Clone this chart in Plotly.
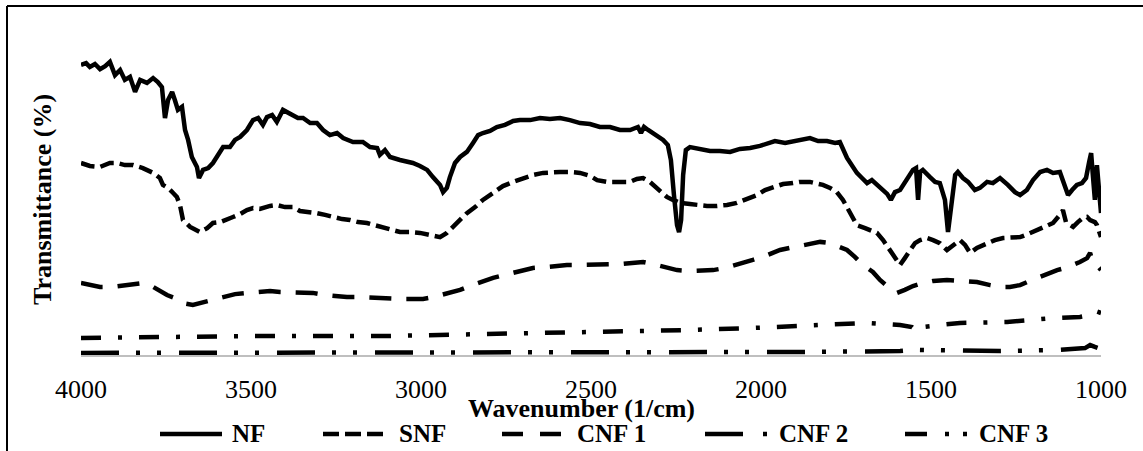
import plotly.graph_objects as go

# ---------------- data ----------------
nf_w = [4000, 3985, 3974, 3959, 3944, 3929, 3915, 3900, 3885, 3871, 3856, 3841, 3826, 3806, 3788, 3774,
        3762, 3759, 3753, 3744, 3732, 3724, 3715, 3703, 3694, 3685, 3674, 3659, 3653, 3641, 3626, 3612,
        3591, 3582, 3562, 3547, 3532, 3512, 3494, 3479, 3465, 3453, 3438, 3424, 3406, 3391, 3376, 3362,
        3347, 3326, 3306, 3288, 3268, 3247, 3229, 3200, 3171, 3150, 3129, 3121, 3106, 3091, 3062, 3024,
        3003, 2982, 2965, 2944, 2935, 2924, 2915, 2900, 2885, 2865, 2847, 2832, 2818, 2797, 2777, 2753,
        2729, 2709, 2679, 2650, 2621, 2591, 2562, 2532, 2503, 2474, 2444, 2415, 2385, 2362, 2353, 2344,
        2332, 2312, 2288, 2274, 2265, 2256, 2247, 2241, 2235, 2229, 2221, 2209, 2179, 2150, 2121, 2091,
        2062, 2032, 2003, 1974, 1959, 1929, 1906, 1877, 1856, 1832, 1806, 1782, 1768, 1747, 1732, 1718,
        1703, 1688, 1674, 1659, 1644, 1629, 1618, 1606, 1591, 1577, 1562, 1553, 1544, 1538, 1532, 1524,
        1503, 1488, 1474, 1459, 1450, 1441, 1429, 1421, 1406, 1391, 1371, 1356, 1335, 1318, 1297, 1274,
        1253, 1238, 1218, 1200, 1179, 1159, 1141, 1121, 1112, 1097, 1085, 1071, 1056, 1044, 1035, 1029,
        1024, 1018, 1012, 1006, 1000]
nf_t = [96.7, 97.3, 96.0, 97.0, 95.3, 96.3, 97.7, 93.3, 95.0, 91.7, 92.7, 87.7, 91.7, 90.7, 92.3, 91.0,
        89.3, 86.0, 79.0, 85.0, 87.7, 85.0, 81.7, 82.7, 75.0, 71.7, 66.0, 62.7, 59.0, 61.7, 62.3, 64.0,
        67.3, 69.3, 69.3, 71.7, 72.7, 75.0, 78.3, 79.0, 76.7, 79.3, 80.0, 77.7, 81.7, 80.7, 80.0, 79.0,
        79.0, 77.3, 77.3, 75.0, 73.3, 74.0, 72.3, 71.0, 71.0, 69.3, 69.0, 66.7, 68.3, 66.0, 65.0, 64.0,
        63.0, 61.7, 59.3, 56.7, 54.3, 55.7, 59.3, 64.0, 66.0, 67.7, 70.7, 73.3, 74.0, 74.7, 76.0, 76.7,
        78.0, 78.3, 78.3, 79.0, 78.7, 79.0, 78.3, 77.3, 77.0, 76.0, 76.0, 75.0, 75.0, 76.0, 74.0, 76.0,
        75.0, 73.3, 71.7, 70.0, 65.0, 53.3, 43.3, 41.0, 45.0, 60.0, 68.3, 69.3, 68.7, 68.0, 68.0, 67.7,
        68.7, 69.0, 69.7, 71.0, 71.3, 70.7, 71.3, 71.7, 72.3, 71.3, 71.3, 70.7, 71.0, 65.7, 63.0, 60.7,
        59.0, 57.3, 58.3, 56.7, 55.0, 53.7, 51.7, 54.3, 55.0, 57.3, 60.3, 61.7, 62.3, 51.7, 61.0, 61.7,
        59.3, 57.7, 57.3, 51.7, 41.0, 48.3, 60.0, 61.0, 59.0, 57.7, 55.0, 55.7, 57.7, 57.3, 59.0, 56.7,
        54.3, 53.3, 55.0, 58.3, 61.0, 61.7, 60.7, 61.0, 58.3, 53.3, 55.0, 56.7, 57.3, 59.0, 64.3, 67.3,
        60.0, 51.7, 63.3, 55.0, 47.3]

snf_w = [4000, 3974, 3944, 3915, 3894, 3871, 3847, 3818, 3788, 3768, 3759, 3744, 3729, 3718, 3709, 3700,
         3679, 3650, 3629, 3612, 3591, 3571, 3553, 3532, 3512, 3494, 3474, 3444, 3424, 3400, 3376, 3356,
         3326, 3306, 3282, 3259, 3232, 3209, 3185, 3159, 3135, 3112, 3091, 3062, 3032, 3003, 2974, 2944,
         2924, 2906, 2885, 2865, 2841, 2818, 2788, 2759, 2729, 2700, 2671, 2641, 2615, 2591, 2562, 2532,
         2503, 2482, 2453, 2424, 2400, 2385, 2365, 2347, 2327, 2306, 2291, 2277, 2259, 2238, 2209, 2188,
         2159, 2129, 2100, 2071, 2041, 2012, 1988, 1965, 1935, 1906, 1885, 1856, 1835, 1818, 1797, 1777,
         1759, 1747, 1732, 1718, 1694, 1674, 1659, 1641, 1621, 1606, 1591, 1577, 1562, 1547, 1532, 1512,
         1494, 1474, 1453, 1435, 1415, 1400, 1385, 1365, 1335, 1312, 1288, 1262, 1238, 1215, 1188, 1165,
         1141, 1121, 1112, 1103, 1091, 1082, 1068, 1053, 1041, 1032, 1018, 1012, 1000]
snf_t = [64.0, 63.0, 62.7, 64.0, 64.0, 63.3, 63.3, 62.3, 60.7, 59.0, 56.7, 55.7, 54.0, 52.7, 50.0, 45.0,
         42.7, 41.0, 42.3, 44.0, 44.3, 45.0, 46.0, 47.0, 48.3, 49.0, 48.7, 49.7, 50.0, 49.3, 49.3, 48.0,
         47.7, 47.3, 46.7, 46.0, 45.3, 45.0, 44.3, 44.0, 43.3, 42.7, 42.0, 41.0, 41.0, 40.7, 40.0, 39.3,
         40.7, 42.7, 45.0, 47.3, 49.3, 51.7, 54.0, 56.3, 57.7, 59.0, 60.0, 60.7, 61.0, 61.0, 61.0, 60.7,
         59.7, 58.3, 57.7, 57.7, 57.7, 57.7, 58.7, 59.0, 57.7, 55.7, 54.0, 52.7, 51.7, 50.7, 50.3, 50.0,
         49.7, 49.7, 50.0, 50.7, 52.0, 53.3, 55.0, 56.0, 57.0, 57.3, 57.7, 57.7, 57.3, 56.7, 55.7, 54.3,
         51.7, 49.3, 45.7, 43.3, 42.3, 41.3, 40.7, 38.3, 35.0, 32.3, 30.0, 32.3, 35.0, 37.3, 38.3, 39.0,
         38.3, 37.3, 35.0, 36.7, 38.3, 36.7, 34.0, 35.7, 37.3, 38.3, 39.0, 39.0, 39.3, 40.3, 41.7, 42.7,
         44.0, 46.7, 48.3, 44.3, 43.3, 42.7, 44.3, 45.7, 46.0, 45.0, 44.3, 43.3, 39.3]

cnf1_w = [4000, 3974, 3944, 3906, 3871, 3841, 3818, 3797, 3774, 3747, 3724, 3700, 3671, 3650, 3621, 3600,
          3576, 3547, 3512, 3474, 3444, 3415, 3385, 3356, 3318, 3282, 3253, 3218, 3179, 3141, 3100, 3062,
          3024, 2994, 2965, 2929, 2906, 2885, 2856, 2827, 2788, 2753, 2709, 2671, 2635, 2600, 2571, 2532,
          2488, 2453, 2415, 2379, 2347, 2318, 2282, 2247, 2209, 2171, 2141, 2106, 2071, 2047, 2024, 1988,
          1965, 1944, 1915, 1885, 1856, 1826, 1797, 1768, 1747, 1724, 1700, 1671, 1650, 1626, 1600, 1577,
          1553, 1524, 1494, 1453, 1415, 1385, 1365, 1326, 1297, 1268, 1238, 1209, 1188, 1165, 1129, 1106,
          1082, 1062, 1041, 1032, 1024, 1012, 1000]
cnf1_t = [24.0, 23.3, 22.7, 22.7, 23.3, 23.7, 24.0, 23.3, 21.7, 20.0, 19.0, 17.3, 16.7, 17.3, 18.3, 19.0,
          19.7, 20.3, 20.7, 21.0, 21.3, 21.0, 21.0, 21.0, 20.7, 20.0, 19.7, 19.3, 19.3, 19.0, 19.0, 18.7,
          18.7, 18.7, 19.3, 20.3, 21.0, 21.7, 23.0, 24.3, 25.7, 26.7, 28.0, 29.0, 29.3, 29.7, 30.0, 30.0,
          30.0, 30.0, 30.3, 30.7, 31.0, 30.3, 29.3, 28.3, 28.0, 28.0, 28.3, 29.0, 30.0, 31.0, 31.7, 33.0,
          34.0, 35.0, 35.7, 36.3, 37.0, 37.7, 37.3, 36.0, 35.0, 32.7, 30.0, 27.7, 25.0, 22.7, 20.7, 21.7,
          23.0, 24.0, 24.7, 25.0, 24.7, 24.3, 24.3, 23.3, 22.7, 22.7, 23.3, 24.7, 25.7, 26.7, 28.3, 29.0,
          30.0, 31.0, 32.3, 34.0, 31.0, 30.0, 28.3]

cnf2_w = [4000, 3797, 3503, 3121, 2827, 2553, 2218, 2024, 1847, 1688, 1591, 1556, 1541, 1527, 1474, 1415,
          1276, 1209, 1141, 1062, 1032, 1018, 1000]
cnf2_t = [5.7, 6.0, 6.3, 6.3, 7.0, 7.3, 8.3, 9.0, 10.0, 10.7, 10.0, 9.3, 7.7, 9.3, 10.0, 10.7,
          11.0, 11.7, 12.3, 12.7, 13.3, 14.7, 14.0]

cnf3_w = [4000, 3650, 3062, 2474, 1885, 1591, 1547, 1297, 1121, 1047, 1032, 1018, 1000]
cnf3_t = [0.7, 0.7, 0.7, 0.7, 1.0, 1.3, 1.7, 1.3, 1.7, 2.3, 3.3, 2.7, 2.0]

x_ticks = [4000, 3500, 3000, 2500, 2000, 1500, 1000]
series_names = ["NF", "SNF", "CNF 1", "CNF 2", "CNF 3"]
x_title = "Wavenumber (1/cm)"
y_title = "Transmittance (%)"

# ---------------- styles ----------------
FONT = "Liberation Serif"
dashes = ["solid", "14px,6px", "22px,15px", "20px,17px,4px,17px", "38px,17px,4px,17px,4px,18px"]
legend_dashes = ["solid", "16px,6px", "21px,17px", "38px,20px,4px,20px", "22px,18px,4px,14px,4px,20px"]
LW = 4.5

W, H = 1143, 451
ML, MR, MT, MB = 81, 42, 25, 96
PW = W - ML - MR
PH = H - MT - MB


def px(xp):
    return (xp - ML) / PW


def py(yp):
    return (H - MB - yp) / PH


fig = go.Figure()
data = [(nf_w, nf_t), (snf_w, snf_t), (cnf1_w, cnf1_t), (cnf2_w, cnf2_t), (cnf3_w, cnf3_t)]
for (xs, ys), name, d in zip(data, series_names, dashes):
    fig.add_trace(go.Scatter(x=xs, y=ys, mode="lines", name=name,
                             line=dict(color="black", width=LW, dash=d),
                             showlegend=False))

shapes = []
annotations = []

# outer frame (open at right and bottom, as in reference crop)
shapes.append(dict(type="line", xref="paper", yref="paper", x0=px(7), x1=px(7),
                   y0=py(6), y1=py(470), line=dict(color="black", width=2)))
shapes.append(dict(type="line", xref="paper", yref="paper", x0=px(7), x1=px(1160),
                   y0=py(6), y1=py(6), line=dict(color="black", width=2)))

# custom legend
leg_y = py(434)
samples = [(160, 222, 230), (323, 385, 397), (502, 563, 575), (705, 768, 777), (905, 968, 977)]
for (x0, x1, tx), name, d in zip(samples, series_names, legend_dashes):
    shapes.append(dict(type="line", xref="paper", yref="paper", x0=px(x0), x1=px(x1),
                       y0=leg_y, y1=leg_y, line=dict(color="black", width=LW, dash=d)))
    annotations.append(dict(xref="paper", yref="paper", x=px(tx), y=leg_y, text="<b>%s</b>" % name,
                            showarrow=False, xanchor="left", yanchor="middle",
                            font=dict(family=FONT, size=25, color="black")))

annotations.append(dict(xref="paper", yref="paper", x=px(581), y=py(408), text="<b>%s</b>" % x_title,
                        showarrow=False, xanchor="center", yanchor="middle",
                        font=dict(family=FONT, size=26, color="black")))
annotations.append(dict(xref="paper", yref="paper", x=px(42), y=py(200), text="<b>%s</b>" % y_title,
                        showarrow=False, xanchor="center", yanchor="middle", textangle=-90,
                        font=dict(family=FONT, size=26, color="black")))

fig.update_layout(
    width=W, height=H,
    margin=dict(l=ML, r=MR, t=MT, b=MB, pad=0),
    paper_bgcolor="white", plot_bgcolor="white",
    shapes=shapes, annotations=annotations,
    showlegend=False,
    xaxis=dict(range=[4000, 1000], tickmode="array", tickvals=x_ticks,
               ticktext=[str(v) for v in x_ticks],
               showgrid=False, zeroline=False, showline=True, linecolor="#bfbfbf", linewidth=2,
               ticks="outside", ticklen=10, tickcolor="rgba(0,0,0,0)",
               tickfont=dict(family=FONT, size=26, color="black"), layer="below traces"),
    yaxis=dict(range=[0, 110], visible=False, showgrid=False, zeroline=False),
)

fig.write_html("out.html", config={"displayModeBar": False},
               post_script="document.body.style.margin='0px';document.body.style.overflow='hidden';")
